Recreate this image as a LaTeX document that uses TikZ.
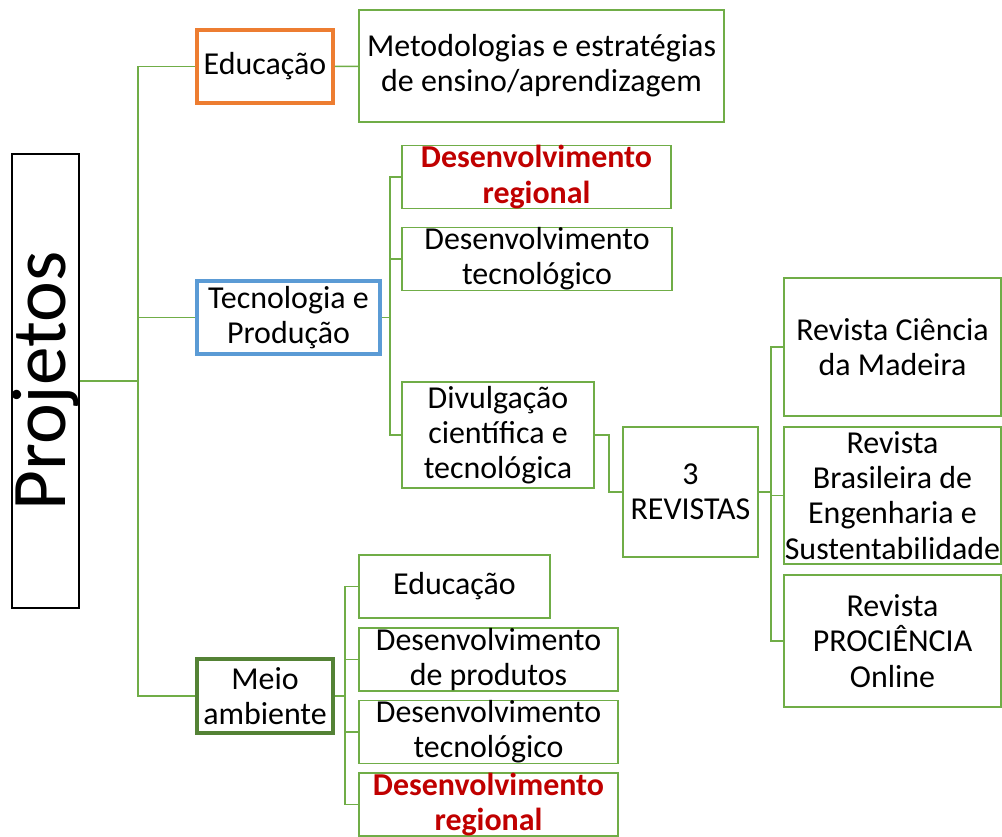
\documentclass[tikz,border=0pt]{standalone}
\usepackage{fontspec}
\setmainfont{Carlito}
\usepackage{xcolor}
\usetikzlibrary{calc,positioning}
\definecolor{lgreen}{HTML}{70AD47}
\definecolor{dgreen}{HTML}{548235}
\definecolor{orng}{HTML}{ED7D31}
\definecolor{blu}{HTML}{5B9BD5}
\definecolor{dred}{HTML}{C00000}
\newlength{\pxu}
\setlength{\pxu}{0.025cm}
\tikzset{wh/.style 2 args={minimum width=#1*\pxu,minimum height=#2*\pxu}}

\begin{document}
\begin{tikzpicture}
[x=0.025cm,y=-0.025cm,
 box/.style={draw=lgreen,line width=1.1pt,align=center,inner sep=0pt,
   font=\fontsize{22.7}{25}\selectfont},
 tbox/.style={box,line width=2.8pt},
 hot/.style={text=dred,font=\fontsize{22.7}{25}\selectfont\bfseries},
 link/.style={draw=lgreen,line width=1.1pt}]
\useasboundingbox (0,0) rectangle (1002,837);
% root
\node[draw=black,line width=1.1pt,inner sep=0pt,wh={66}{454},
  font=\fontsize{55}{60}\selectfont] (proj) at (45.5,381) {\rotatebox{90}{Projetos}};
% first level
\node[tbox,draw=orng,wh={136}{73}] (edu) at (265,66.5) {Educação};
\node[tbox,draw=blu,wh={183}{73}] (tec) at (288.5,317.5) {Tecnologia e\\Produção};
\node[tbox,draw=dgreen,wh={136}{74}] (mei) at (265,696) {Meio\\ambiente};
% educacao
\node[box,wh={365}{112}] (met) at (541.5,66) {Metodologias e estratégias\\de ensino/aprendizagem};
% tecnologia e producao
\node[box,hot,wh={269}{62}] (dreg) at (536.5,177) {Desenvolvimento\\regional};
\node[box,wh={270}{62}] (dtec) at (537,259) {Desenvolvimento\\tecnológico};
\node[box,wh={192}{106}] (div) at (498,435) {Divulgação\\científica e\\tecnológica};
\node[box,wh={135}{130}] (rev) at (690.5,492) {3\\REVISTAS};
\node[box,wh={217}{138}] (rcm) at (892.5,347) {Revista Ciência\\da Madeira};
\node[box,wh={217}{137}] (rbe) at (892.5,495.5) {Revista\\Brasileira de\\Engenharia e\\Sustentabilidade};
\node[box,wh={217}{132}] (rpo) at (892.5,641) {Revista\\PROCIÊNCIA\\Online};
% meio ambiente
\node[box,wh={191}{63}] (medu) at (454.5,586.5) {Educação};
\node[box,wh={259}{63}] (mpro) at (488.5,659.5) {Desenvolvimento\\de produtos};
\node[box,wh={259}{62}] (mtec) at (488.5,732) {Desenvolvimento\\tecnológico};
\node[box,hot,wh={259}{63}] (mreg) at (488.5,804.5) {Desenvolvimento\\regional};
% connectors
\coordinate (j1) at (138,381);
\coordinate (j2) at (390,317.5);
\coordinate (j3) at (771,492);
\coordinate (j4) at (345,696);
\draw[link] (proj.east) -- (j1);
\draw[link] (edu.west) -| (j1);
\draw[link] (tec.west) -| (j1);
\draw[link] (mei.west) -| (j1);
\draw[link] (edu) -- (met);
\draw[link] (tec.east) -- (j2);
\draw[link] (dreg.west) -| (j2);
\draw[link] (dtec.west) -| (j2);
\draw[link] (div.west) -| (j2);
\draw[link] (div.east) -- ++(14,0) |- (rev.west);
\draw[link] (rev.east) -- (j3);
\draw[link] (rcm.west) -| (j3);
\draw[link] (rbe.west) -| (j3);
\draw[link] (rpo.west) -| (j3);
\draw[link] (mei.east) -- (j4);
\draw[link] (medu.west) -| (j4);
\draw[link] (mpro.west) -| (j4);
\draw[link] (mtec.west) -| (j4);
\draw[link] (mreg.west) -| (j4);
\end{tikzpicture}
\end{document}
